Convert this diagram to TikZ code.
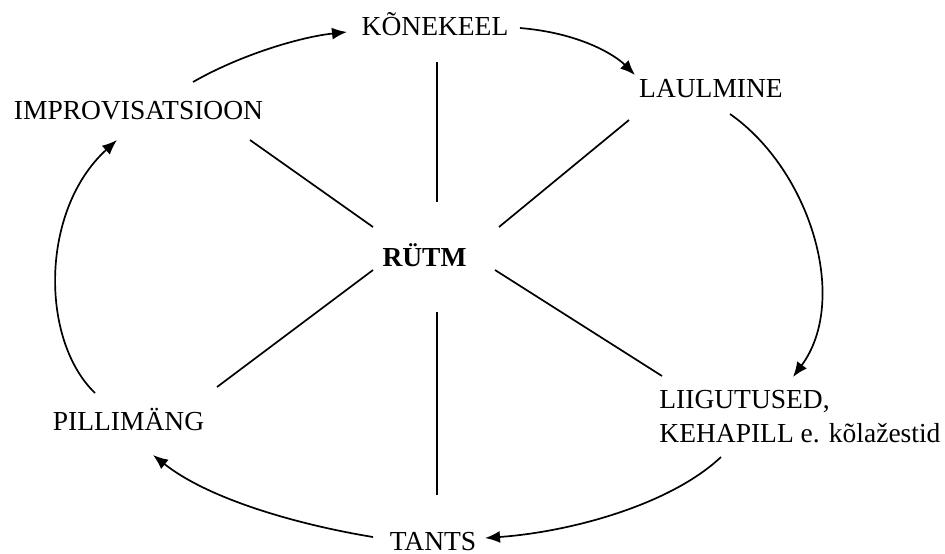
\documentclass[tikz,border=0pt]{standalone}
\usepackage{fontspec}
\setmainfont{Liberation Serif}
\usetikzlibrary{arrows.meta}
\begin{document}
\begin{tikzpicture}[x=0.5pt,y=-0.5pt,
  lbl/.style={inner sep=0pt,anchor=base,font=\fontsize{13.75}{17}\selectfont},
  spoke/.style={line width=0.85pt},
  flow/.style={line width=0.85pt,-{Latex[length=7.5pt,width=6pt]}}]
\useasboundingbox (0,0) rectangle (945,553);
% nodes
\node[lbl] (kone) at (435,35) {KÕNEKEEL};
\node[lbl] (laul) at (711,97) {LAULMINE};
\node[lbl] (impro) at (138.5,119) {IMPROVISATSIOON};
\node[lbl,font=\fontsize{13.75}{17}\selectfont\bfseries] (rutm) at (424.5,266) {RÜTM};
\node[lbl] (pilli) at (128.5,430) {PILLIMÄNG};
\node[lbl] (tants) at (433,550) {TANTS};
\node[lbl,anchor=base west,align=left] (liig) at (659,442) {LIIGUTUSED,\\KEHAPILL e. kõlažestid};
% spoke end points
\coordinate (s1a) at (437,62);  \coordinate (s1b) at (437,202);
\coordinate (s2a) at (437,312); \coordinate (s2b) at (437,495);
\coordinate (s3a) at (250,140); \coordinate (s3b) at (373,227);
\coordinate (s4a) at (629,120); \coordinate (s4b) at (499,227);
\coordinate (s5a) at (217,387); \coordinate (s5b) at (373,270);
\coordinate (s6a) at (495,270); \coordinate (s6b) at (662,376);
\draw[spoke] (s1a) -- (s1b);
\draw[spoke] (s2a) -- (s2b);
\draw[spoke] (s3a) -- (s3b);
\draw[spoke] (s4a) -- (s4b);
\draw[spoke] (s5a) -- (s5b);
\draw[spoke] (s6a) -- (s6b);
% cycle arrows
\coordinate (a1s) at (193,82);  \coordinate (a1e) at (347,32);
\coordinate (a2s) at (520,28);  \coordinate (a2e) at (635,75);
\coordinate (a3s) at (730,114); \coordinate (a3e) at (793,377);
\coordinate (a4s) at (721,457); \coordinate (a4e) at (485,538);
\coordinate (a5s) at (373,537); \coordinate (a5e) at (153,455);
\coordinate (a6s) at (95,393);  \coordinate (a6e) at (117,140);
\draw[flow] (a1s) .. controls (240,55) and (300,37) .. (a1e);
\draw[flow] (a2s) .. controls (580,33) and (615,55) .. (a2e);
\draw[flow] (a3s) .. controls (810,170) and (850,300) .. (a3e);
\draw[flow] (a4s) .. controls (670,505) and (570,532) .. (a4e);
\draw[flow] (a5s) .. controls (300,525) and (210,500) .. (a5e);
\draw[flow] (a6s) .. controls (40,340) and (40,210) .. (a6e);
\end{tikzpicture}
\end{document}
